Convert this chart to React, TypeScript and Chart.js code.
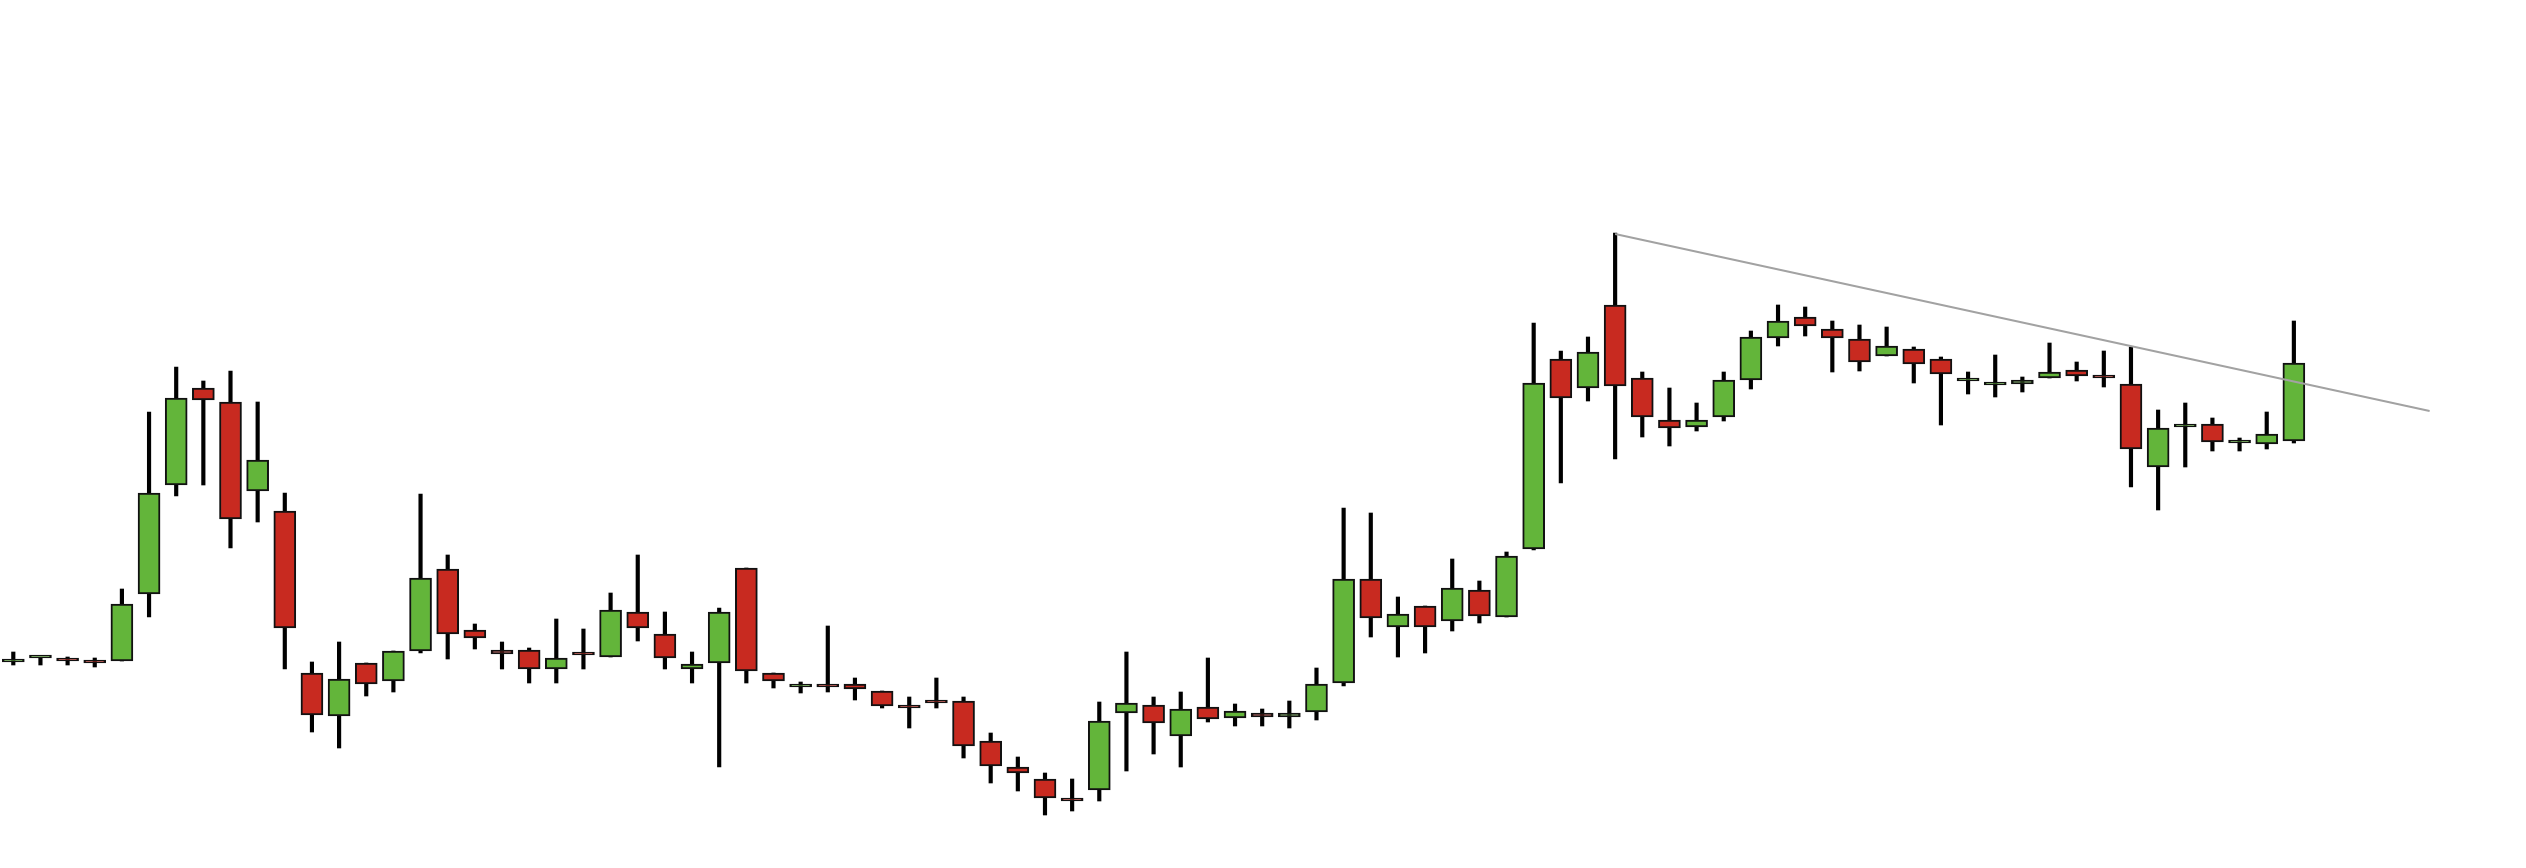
import { useEffect, useRef } from 'react';
import { Chart, registerables } from 'chart.js';

Chart.register(...registerables);

// one entry per session, oldest first
const opens = [
  20.6, 21.0, 20.8, 20.6, 20.7, 27.4, 38.3, 48.0, 46.6, 37.7,
  35.7, 19.5, 15.2, 20.5, 18.7, 21.7, 29.9, 23.8, 21.8, 21.8,
  19.9, 21.4, 21.1, 25.6, 23.4, 19.9, 20.5, 30.0, 19.5, 18.1,
  18.2, 18.4, 17.7, 16.1, 16.6, 16.7, 12.7, 10.1, 8.9, 6.8,
  7.8, 15.5, 16.3, 13.2, 16.1, 15.0, 15.5, 15.1, 15.6, 18.5,
  28.9, 24.1, 26.2, 24.7, 27.8, 25.1, 31.9, 50.9, 48.0, 56.3,
  49.0, 44.8, 44.1, 45.1, 48.8, 53.0, 55.1, 53.9, 52.9, 51.2,
  51.9, 50.9, 48.7, 48.3, 48.4, 49.0, 49.8, 49.1, 48.4, 40.1,
  44.1, 44.4, 42.5, 42.4, 42.7,
];
const highs = [
  21.6, 21.0, 21.1, 21.0, 27.9, 45.6, 50.1, 48.7, 49.7, 46.6,
  37.5, 20.6, 22.6, 20.5, 21.7, 37.4, 31.3, 24.4, 22.6, 22.0,
  24.9, 23.9, 27.5, 31.3, 25.6, 21.6, 26.0, 30.0, 19.5, 18.6,
  24.2, 19.0, 17.7, 17.1, 19.0, 17.1, 13.5, 11.1, 9.5, 8.9,
  16.6, 21.6, 17.1, 17.6, 21.0, 16.4, 15.9, 16.7, 20.0, 36.0,
  35.5, 27.1, 26.2, 30.9, 28.7, 31.6, 54.5, 51.7, 53.1, 63.5,
  49.6, 48.0, 46.5, 49.6, 53.7, 56.3, 56.1, 54.7, 54.3, 54.1,
  52.1, 51.1, 49.6, 51.3, 49.1, 52.5, 50.6, 51.7, 52.1, 45.8,
  46.5, 45.0, 43.0, 45.6, 54.7,
];
const lows = [
  20.3, 20.3, 20.3, 20.1, 20.7, 25.1, 37.2, 38.3, 32.0, 34.6,
  19.9, 13.6, 12.0, 17.2, 17.6, 21.5, 20.9, 21.9, 19.9, 18.5,
  18.5, 19.9, 21.1, 22.7, 19.9, 18.5, 10.1, 18.5, 18.0, 17.5,
  17.6, 16.8, 16.0, 14.0, 16.0, 11.0, 8.5, 7.7, 5.3, 5.7,
  6.7, 9.7, 11.4, 10.1, 14.6, 14.2, 14.2, 14.0, 14.8, 18.2,
  23.1, 21.1, 21.5, 23.7, 24.5, 25.1, 31.8, 38.5, 46.7, 40.9,
  43.1, 42.2, 43.7, 44.7, 47.9, 52.2, 53.2, 49.6, 49.7, 51.2,
  48.5, 44.3, 47.4, 47.1, 47.6, 49.0, 48.7, 48.1, 38.1, 35.8,
  40.1, 41.7, 41.7, 41.9, 42.5,
];
const closes = [
  20.6, 21.0, 20.7, 20.5, 26.4, 37.5, 47.0, 46.8, 34.9, 40.8,
  24.0, 15.3, 18.9, 18.4, 21.7, 29.0, 23.4, 23.0, 21.4, 19.9,
  21.0, 21.3, 25.8, 24.0, 21.0, 20.4, 25.6, 19.7, 18.7, 18.1,
  18.1, 17.9, 16.2, 16.0, 16.5, 12.2, 10.2, 9.5, 7.0, 6.7,
  14.7, 16.5, 14.5, 15.9, 14.9, 15.7, 15.1, 15.5, 18.4, 28.9,
  25.0, 25.4, 24.1, 28.0, 25.2, 31.2, 48.5, 47.0, 51.6, 48.2,
  45.1, 44.0, 44.8, 48.8, 53.1, 54.7, 54.2, 53.0, 50.6, 52.2,
  50.4, 49.4, 48.7, 48.3, 48.8, 49.6, 49.2, 49.0, 41.9, 44.0,
  44.1, 42.6, 42.5, 43.4, 50.5,
];

// resistance line drawn from the session-59 high out past the last bar
const trendX = [59, 89];
const trendY = [63.4, 45.7];

const UP = '#63b53a';
const DOWN = '#c82a20';

export default function App() {
  const canvasRef = useRef<HTMLCanvasElement>(null);
  const chartRef = useRef<Chart | null>(null);

  useEffect(() => {
    if (!canvasRef.current) return;
    if (chartRef.current) chartRef.current.destroy();

    const bodies = opens.map((o, i) => ({ x: i, y: [o, closes[i]] }));
    const wicks = lows.map((l, i) => ({ x: i, y: [l, highs[i]] }));
    const colors = opens.map((o, i) => (closes[i] >= o ? UP : DOWN));

    chartRef.current = new Chart(canvasRef.current, {
      type: 'bar',
      data: {
        datasets: [
          {
            type: 'line',
            data: trendX.map((x, i) => ({ x, y: trendY[i] })),
            borderColor: '#a2a2a2',
            borderWidth: 2,
            pointRadius: 0,
            order: 0,
          },
          {
            type: 'bar',
            data: bodies as any,
            backgroundColor: colors,
            borderColor: '#111111',
            borderWidth: 2,
            borderSkipped: false,
            barThickness: 22,
            minBarLength: 3,
            grouped: false,
            order: 1,
          },
          {
            type: 'bar',
            data: wicks as any,
            backgroundColor: '#000000',
            borderWidth: 0,
            barThickness: 3.5,
            grouped: false,
            order: 2,
          },
        ],
      },
      options: {
        animation: false,
        responsive: true,
        maintainAspectRatio: false,
        events: [],
        layout: { padding: 0 },
        plugins: {
          legend: { display: false },
          tooltip: { enabled: false },
        },
        scales: {
          x: {
            type: 'linear',
            display: false,
            offset: false,
            min: -0.49,
            max: 92.55,
          },
          y: {
            display: false,
            min: 0,
            max: 86.8,
          },
        },
      },
    });

    return () => {
      if (chartRef.current) {
        chartRef.current.destroy();
        chartRef.current = null;
      }
    };
  }, []);

  return (
    <div style={{ position: 'fixed', left: 0, top: 0, width: '100vw', height: '100vh', background: '#fff' }}>
      <canvas ref={canvasRef} />
    </div>
  );
}
